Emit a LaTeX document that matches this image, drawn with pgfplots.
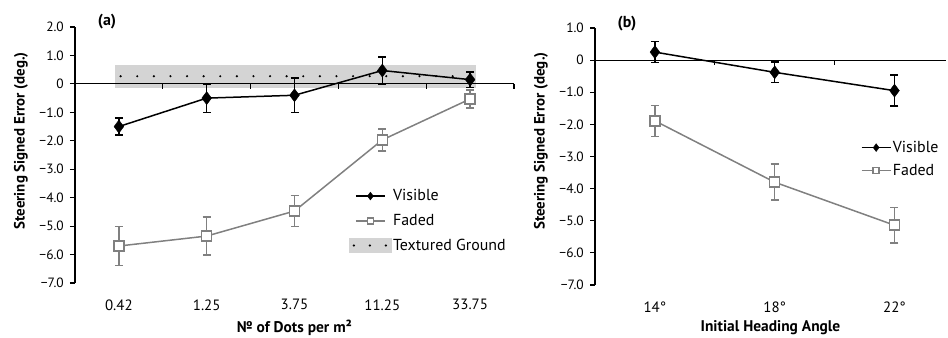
\documentclass[border=0pt]{standalone}
\usepackage{pgfplots}
\pgfplotsset{compat=1.18}
\usepackage{fontspec}
\setmainfont{PT Sans}
\definecolor{fadedgray}{RGB}{128,128,128}
\definecolor{bandgray}{RGB}{212,212,212}
\begin{document}
\begin{tikzpicture}
\path[use as bounding box] (0bp,0bp) rectangle (948bp,338bp);
\pgfplotsset{
  every axis/.append style={
    scale only axis,
    axis y line*=left,
    axis x line*=bottom,
    x axis line style={draw=none},
    xtick style={draw=none},
    y axis line style={line width=1.1bp},
    ytick style={line width=1.1bp, black},
    tick align=outside,
    major tick length=5bp,
    /pgf/number format/assume math mode=true,
    yticklabel style={font=\fontsize{13.5}{15}\selectfont, inner sep=0pt, xshift=-6bp},
    xticklabel style={font=\fontsize{15}{17}\selectfont, yshift=-8bp},
    clip=false,
    legend cell align=left,
  },
  vis/.style={black, line width=1.5bp, mark=diamond*, mark size=6.5bp,
    mark options={solid, fill=black, line width=0.4bp},
    error bars/y dir=both, error bars/y explicit,
    error bars/error bar style={line width=1.5bp, black},
    error bars/error mark options={rotate=90, mark size=4bp, line width=1.5bp, black}},
  fad/.style={fadedgray, line width=1.5bp, mark=square*, mark size=5bp,
    mark options={solid, fill=white, draw=fadedgray, line width=1.5bp},
    error bars/y dir=both, error bars/y explicit,
    error bars/error bar style={line width=1.5bp, fadedgray},
    error bars/error mark options={rotate=90, mark size=4bp, line width=1.5bp, fadedgray}},
  lgline/.style={legend image code/.code={
    \draw[##1, line width=1.5bp, every mark/.append style={scale=0.6}, mark repeat=2, mark phase=2] plot coordinates {(0bp,0bp) (14.5bp,0bp) (29bp,0bp)};}},
}
% ---------------- panel (a)
\begin{axis}[
  at={(75bp,55bp)}, anchor=south west,
  width=439bp, height=256bp,
  xmin=-0.5, xmax=4.5, ymin=-7, ymax=2,
  xtick={0,1,2,3,4},
  xticklabels={0.42,1.25,3.75,11.25,33.75},
  ytick={2,1,0,-1,-2,-3,-4,-5,-6,-7},
  yticklabels={2.0,1.0,0,−1.0,−2.0,−3.0,−4.0,−5.0,−6.0,−7.0},
  xlabel={№ of Dots per m²},
  ylabel={Steering Signed Error (deg.)},
  xlabel style={font=\bfseries\fontsize{15.5}{18}\selectfont, at={(axis description cs:0.5,0)}, anchor=north, inner sep=0pt, yshift=-37bp},
  ylabel style={font=\bfseries\fontsize{15}{18}\selectfont, at={(axis description cs:-0.123,0.555)}, anchor=center},
  legend style={at={(axis description cs:0.623,0.373)}, anchor=north west, draw=none, fill=none, inner sep=0pt, row sep=8bp, font=\fontsize{16}{18}\selectfont},
]
\addplot[draw=none, fill=bandgray, forget plot] coordinates {(-0.045,-0.14) (4.07,-0.14) (4.07,0.67) (-0.045,0.67)} -- cycle;
\addplot[forget plot, black, line width=2.4bp, line cap=round, dash pattern=on 0bp off 16.6bp] coordinates {(0.02,0.27) (4.06,0.27)};
\draw[black, line width=1.2bp] (axis cs:-0.5,0) -- (axis cs:4.5,0);
\pgfplotsinvokeforeach{0.5,1.5,2.5,3.5,4.5}{\draw[black, line width=1.1bp] (axis cs:#1,0) -- ([yshift=-5bp]axis cs:#1,0);}
\addplot[vis, lgline] table[x=x, y=y, y error=e] {
x y e
0 -1.50 0.30
1 -0.50 0.50
2 -0.40 0.60
3 0.47 0.47
4 0.15 0.27
};
\addlegendentry{Visible}
\addplot[fad, lgline] table[x=x, y=y, y error=e] {
x y e
0 -5.70 0.68
1 -5.35 0.67
2 -4.47 0.55
3 -1.97 0.39
4 -0.53 0.32
};
\addlegendentry{Faded}
\addlegendimage{legend image code/.code={
  \fill[bandgray] (-7bp,-7bp) rectangle (35bp,7bp);
  \draw[black, line width=2.4bp, line cap=round, dash pattern=on 0bp off 16bp] (-2bp,0bp) -- (32bp,0bp);}}
\addlegendentry{Textured Ground}
\end{axis}
\node[font=\bfseries\fontsize{16}{18}\selectfont] at (107bp,316bp) {(a)};
% ---------------- panel (b)
\begin{axis}[
  at={(595bp,53bp)}, anchor=south west,
  width=351bp, height=257bp,
  xmin=-0.5, xmax=2.43, ymin=-7, ymax=1,
  xtick={0,1,2},
  xticklabels={14°,18°,22°},
  ytick={1,0,-1,-2,-3,-4,-5,-6,-7},
  yticklabels={1.0,0,−1.0,−2.0,−3.0,−4.0,−5.0,−6.0,−7.0},
  xlabel={Initial Heading Angle},
  ylabel={Steering Signed Error (deg.)},
  xlabel style={font=\bfseries\fontsize{15.5}{18}\selectfont, at={(axis description cs:0.5,0)}, anchor=north, inner sep=0pt, yshift=-35bp},
  ylabel style={font=\bfseries\fontsize{15}{18}\selectfont, at={(axis description cs:-0.154,0.56)}, anchor=center},
  legend style={at={(axis description cs:0.757,0.568)}, anchor=north west, draw=none, fill=none, inner sep=0pt, row sep=6bp, font=\fontsize{16}{18}\selectfont, nodes={inner xsep=1.5bp}},
]
\draw[black, line width=1.2bp] (axis cs:-0.5,0) -- (axis cs:2.43,0);
\pgfplotsinvokeforeach{0.5,1.5}{\draw[black, line width=1.1bp] (axis cs:#1,0) -- ([yshift=-5bp]axis cs:#1,0);}
\addplot[vis, lgline] table[x=x, y=y, y error=e] {
x y e
0 0.25 0.33
1 -0.38 0.32
2 -0.95 0.48
};
\addlegendentry{Visible}
\addplot[fad, lgline] table[x=x, y=y, y error=e] {
x y e
0 -1.89 0.48
1 -3.80 0.56
2 -5.14 0.56
};
\addlegendentry{Faded}
\end{axis}
\node[font=\bfseries\fontsize{16}{18}\selectfont] at (627bp,314bp) {(b)};
\end{tikzpicture}
\end{document}
